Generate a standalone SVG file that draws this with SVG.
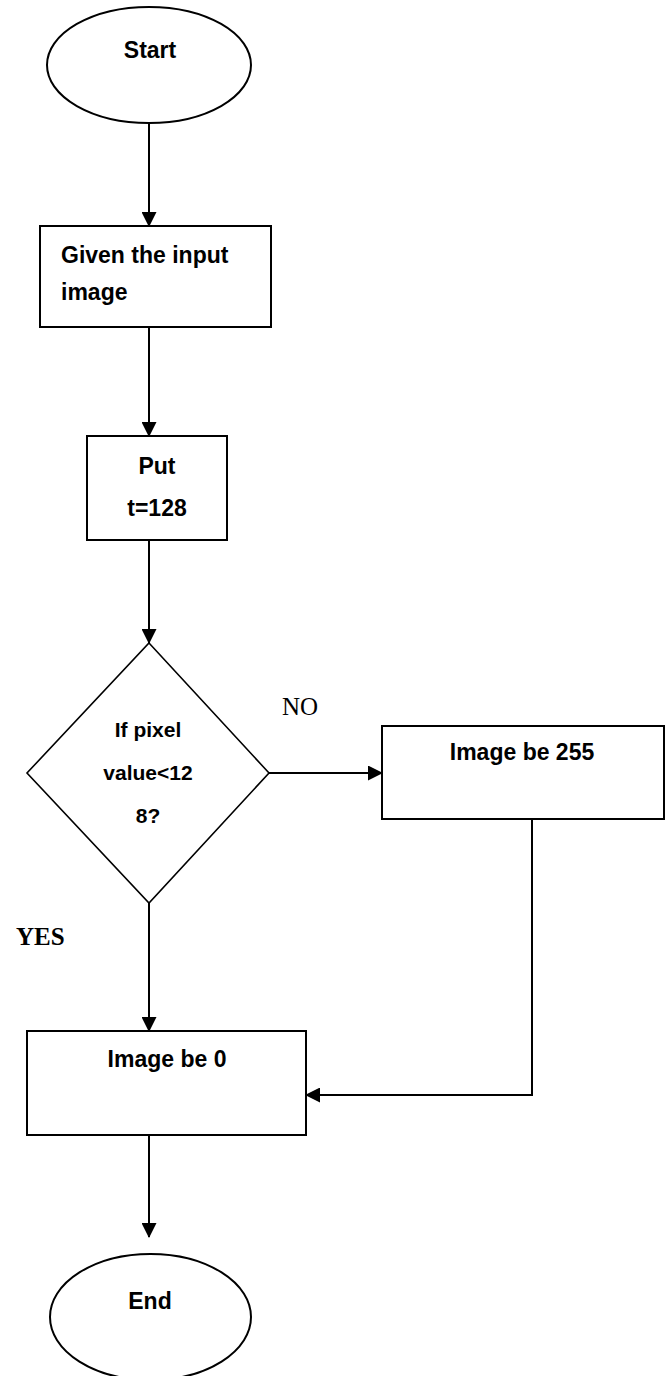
<svg xmlns="http://www.w3.org/2000/svg" width="670" height="1376" viewBox="0 0 670 1376">
<defs>
<style>
.shape{fill:#fff;stroke:#000;stroke-width:2}
.dia{fill:#fff;stroke:#000;stroke-width:1.6}
.conn{fill:none;stroke:#000;stroke-width:2}
.t{font-family:"Liberation Sans",Arial,sans-serif;font-weight:bold;font-size:23px;fill:#000}
.td{font-family:"Liberation Sans",Arial,sans-serif;font-weight:bold;font-size:21px;fill:#000;text-anchor:middle}
.c{text-anchor:middle}
.lbl{font-family:"Liberation Serif","Times New Roman",serif;font-size:25px;fill:#000}
</style>
<marker id="arr" viewBox="0 0 15 15" refX="14" refY="7.5" markerWidth="15" markerHeight="15" markerUnits="userSpaceOnUse" orient="auto">
<path d="M0,0 L15,7.5 L0,15 Z" fill="#000"/>
</marker>
</defs>
<rect width="670" height="1376" fill="#fff"/>
<g id="connectors">
<line class="conn" x1="149" y1="123" x2="149" y2="226" marker-end="url(#arr)"/>
<line class="conn" x1="149" y1="327" x2="149" y2="436" marker-end="url(#arr)"/>
<line class="conn" x1="149" y1="540" x2="149" y2="643" marker-end="url(#arr)"/>
<line class="conn" x1="269" y1="773" x2="382" y2="773" marker-end="url(#arr)"/>
<line class="conn" x1="149" y1="903" x2="149" y2="1031" marker-end="url(#arr)"/>
<polyline class="conn" points="532,819 532,1095 306,1095" marker-end="url(#arr)"/>
<line class="conn" x1="149" y1="1135" x2="149" y2="1237" marker-end="url(#arr)"/>
</g>
<g id="start">
<ellipse class="shape" cx="149" cy="65" rx="102" ry="58"/>
<text class="t c" x="150" y="58">Start</text>
</g>
<g id="input">
<rect class="shape" x="40" y="226" width="231" height="101"/>
<text class="t" x="61" y="263">Given the input</text>
<text class="t" x="61" y="300">image</text>
</g>
<g id="put">
<rect class="shape" x="87" y="436" width="140" height="104"/>
<text class="t c" x="157" y="474">Put</text>
<text class="t c" x="157" y="516">t=128</text>
</g>
<g id="decision">
<polygon class="dia" points="149,643 269,773 149,903 27,773"/>
<text class="td" x="148" y="737">If pixel</text>
<text class="td" x="148" y="780">value&lt;12</text>
<text class="td" x="148" y="823">8?</text>
</g>
<g id="no-label">
<text class="lbl" x="282" y="715">NO</text>
</g>
<g id="yes-label">
<text class="lbl" x="16" y="945" font-weight="bold">YES</text>
</g>
<g id="img255">
<rect class="shape" x="382" y="726" width="282" height="93"/>
<text class="t c" x="522" y="760">Image be 255</text>
</g>
<g id="img0">
<rect class="shape" x="27" y="1031" width="279" height="104"/>
<text class="t c" x="167" y="1067">Image be 0</text>
</g>
<g id="end">
<ellipse class="shape" cx="150.5" cy="1317" rx="100.5" ry="63"/>
<text class="t c" x="150" y="1309">End</text>
</g>
</svg>
